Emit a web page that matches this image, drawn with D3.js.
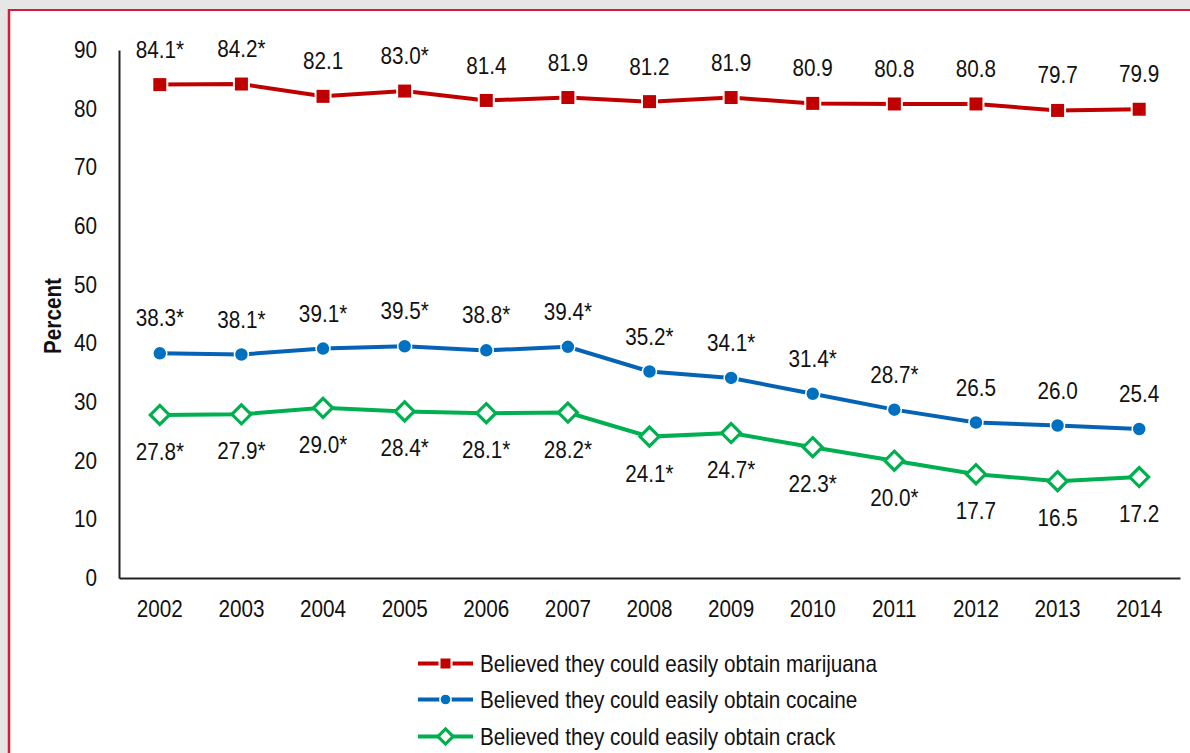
<!DOCTYPE html>
<html>
<head>
<meta charset="utf-8">
<script src="https://cdn.jsdelivr.net/npm/d3@7"></script>
<style>
  html, body { margin: 0; padding: 0; background: #e6e6e6; }
  svg { display: block; }
  text { font-family: "Liberation Sans", Arial, sans-serif; fill: #111; }
</style>
</head>
<body>
<svg id="chart" width="1190" height="753"></svg>
<script>
// Survey years
const years = ["2002","2003","2004","2005","2006","2007","2008","2009","2010","2011","2012","2013","2014"];

// Percent who believed they could easily obtain each substance
const marijuana = [84.1, 84.2, 82.1, 83.0, 81.4, 81.9, 81.2, 81.9, 80.9, 80.8, 80.8, 79.7, 79.9];
const cocaine   = [38.3, 38.1, 39.1, 39.5, 38.8, 39.4, 35.2, 34.1, 31.4, 28.7, 26.5, 26.0, 25.4];
const crack     = [27.8, 27.9, 29.0, 28.4, 28.1, 28.2, 24.1, 24.7, 22.3, 20.0, 17.7, 16.5, 17.2];

// Significance flags (asterisk after the value)
const marijuanaSig = [true, true, false, true, false, false, false, false, false, false, false, false, false];
const cocaineSig   = [true, true, true, true, true, true, true, true, true, true, false, false, false];
const crackSig     = [true, true, true, true, true, true, true, true, true, true, false, false, false];

const yTicks = [0, 10, 20, 30, 40, 50, 60, 70, 80, 90];

const legendLabels = [
  "Believed they could easily obtain marijuana",
  "Believed they could easily obtain cocaine",
  "Believed they could easily obtain crack"
];

const FONT_SIZE = 23;
const NARROW = 0.9;   // horizontal squeeze for a condensed look

// Condense a text selection horizontally while keeping its anchor x in place
function narrow(sel) {
  sel.each(function () {
    const t = d3.select(this);
    const x0 = +t.attr("x") || 0;
    const prev = t.attr("transform") || "";
    t.attr("x", x0 / NARROW)
      .attr("transform", (prev ? prev + " " : "") + `scale(${NARROW},1)`)
      .attr("font-size", FONT_SIZE)
      .style("font-family", '"Liberation Sans", Arial, sans-serif');
  });
}

const svg = d3.select("#chart");

// Frame: grey margin, red left/top rule, white panel
svg.append("rect").attr("x", 9).attr("y", 10).attr("width", 1181).attr("height", 743).attr("fill", "#fff");
svg.append("line").attr("x1", 9).attr("x2", 9).attr("y1", 9).attr("y2", 753)
  .attr("stroke", "#d21e3c").attr("stroke-width", 2.5);
svg.append("line").attr("x1", 8).attr("x2", 1190).attr("y1", 10).attr("y2", 10)
  .attr("stroke", "#d21e3c").attr("stroke-width", 2);

const plotLeft = 119, plotRight = 1180, plotTop = 50, plotBottom = 578;

const x = d3.scaleBand().domain(years).range([plotLeft, plotRight]).padding(0);
const y = d3.scaleLinear().domain([0, 90]).range([plotBottom, plotTop]);
const cx = d => x(d) + x.bandwidth() / 2;

// Axes
const yAxis = d3.axisLeft(y).tickValues(yTicks).tickSize(0).tickPadding(22);
const gy = svg.append("g").attr("transform", `translate(${plotLeft},0)`).call(yAxis);
gy.select(".domain").attr("stroke", "#222").attr("stroke-width", 2);
gy.selectAll("text").attr("fill", "#111").call(narrow);

const xAxis = d3.axisBottom(x).tickSize(0).tickPadding(23);
const gx = svg.append("g").attr("transform", `translate(0,${plotBottom})`).call(xAxis);
gx.select(".domain").attr("stroke", "#222").attr("stroke-width", 2);
gx.selectAll("text").attr("fill", "#111").call(narrow);

// Axis title
svg.append("text")
  .attr("transform", "translate(53,316) rotate(-90)")
  .attr("text-anchor", "middle")
  .attr("dy", "0.35em")
  .attr("font-weight", "bold")
  .text("Percent")
  .call(narrow);

// labelDy: value label offset from its point (above for negative, below for positive)
const series = [
  { values: marijuana, sig: marijuanaSig, labelDy: -35, color: "#c00000", line: "#c00000", marker: "square" },
  { values: cocaine,   sig: cocaineSig,   labelDy: -35, color: "#0070c0", line: "#0563b5", marker: "circle" },
  { values: crack,     sig: crackSig,     labelDy: 37,  color: "#00b050", line: "#00b050", marker: "diamond" }
];

const line = d3.line().x((d, i) => cx(years[i])).y(d => y(d));

function drawMarker(g, type, color, k) {
  if (type === "square") {
    const h = 7.5 * k;
    g.append("rect").attr("x", -h).attr("y", -h).attr("width", 2 * h).attr("height", 2 * h)
      .attr("fill", color).attr("stroke", "#fff").attr("stroke-width", 2);
  } else if (type === "circle") {
    g.append("circle").attr("r", 7 * k).attr("fill", color).attr("stroke", "#fff").attr("stroke-width", 1.5);
  } else {
    const h = 9.5 * k;
    g.append("path").attr("d", `M0,${-h}L${h},0L0,${h}L${-h},0Z`)
      .attr("fill", "#fff").attr("stroke", color).attr("stroke-width", 3.2);
  }
}

series.forEach(s => {
  svg.append("path").datum(s.values).attr("d", line)
    .attr("fill", "none").attr("stroke", s.line).attr("stroke-width", 4);
  s.values.forEach((v, i) => {
    const g = svg.append("g").attr("transform", `translate(${cx(years[i])},${y(v)})`);
    drawMarker(g, s.marker, s.color, 1);
  });
  svg.selectAll(null).data(s.values).enter().append("text")
    .attr("x", (d, i) => cx(years[i]))
    .attr("y", d => y(d) + s.labelDy)
    .attr("dy", "0.35em")
    .attr("text-anchor", "middle")
    .text((d, i) => d.toFixed(1) + (s.sig[i] ? "*" : ""))
    .call(narrow);
});

// Legend
const legendBaseline = [672, 708, 745];
series.forEach((s, i) => {
  const cy = legendBaseline[i] - 8.5;
  const g = svg.append("g").attr("transform", `translate(0,${cy})`);
  g.append("line").attr("x1", 418).attr("x2", 473).attr("y1", 0).attr("y2", 0)
    .attr("stroke", s.line).attr("stroke-width", 4);
  const m = g.append("g").attr("transform", "translate(445.5,0)");
  drawMarker(m, s.marker, s.color, 0.8);
  svg.append("text").attr("x", 480).attr("y", legendBaseline[i])
    .text(legendLabels[i]).call(narrow);
});
</script>
</body>
</html>
